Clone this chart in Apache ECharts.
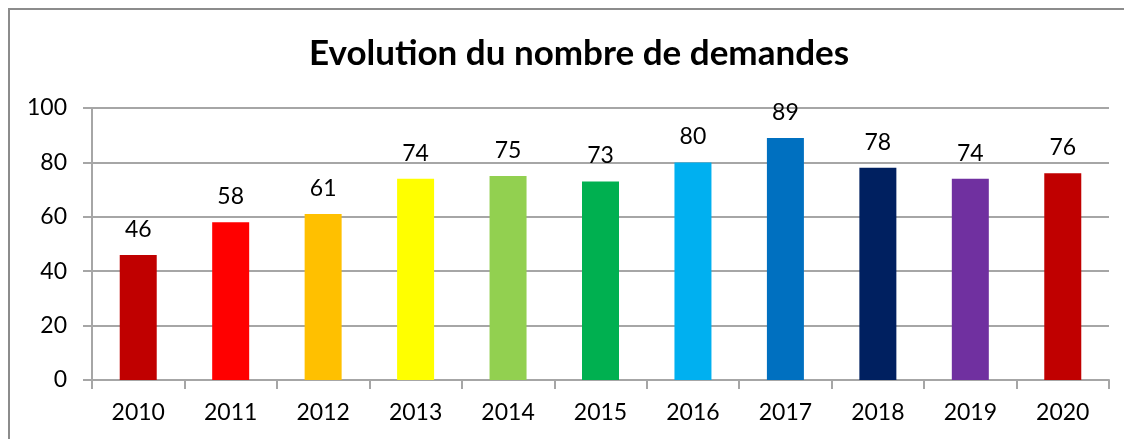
<!DOCTYPE html>
<html>
<head>
<meta charset="utf-8">
<script src="https://cdn.jsdelivr.net/npm/echarts@6/dist/echarts.min.js"></script>
<style>
  html, body { margin: 0; padding: 0; background: #fff; }
  #chart { width: 1124px; height: 439px; }
</style>
</head>
<body>
<div id="chart"></div>
<script>
// Yearly demand counts
const years = ['2010', '2011', '2012', '2013', '2014', '2015', '2016', '2017', '2018', '2019', '2020'];
const demandes = [46, 58, 61, 74, 75, 73, 80, 89, 78, 74, 76];
const barColors = ['#C00000', '#FF0000', '#FFC000', '#FFFF00', '#92D050', '#00B050',
                   '#00B0F0', '#0070C0', '#002060', '#7030A0', '#C00000'];
const yTicks = { min: 0, max: 100, interval: 20 };

const font = 'Lato, "Open Sans", "DejaVu Sans", sans-serif';
const gridColor = '#a6a6a6';

const chart = echarts.init(document.getElementById('chart'));
chart.setOption({
  animation: false,
  title: {
    text: 'Evolution du nombre de demandes',
    left: 304,
    top: 31,
    textStyle: { fontFamily: font, fontSize: 35, fontWeight: 'bold', color: '#000' }
  },
  graphic: [{
    type: 'rect',
    shape: { x: 9, y: 9, width: 1300, height: 600 },
    style: { fill: 'none', stroke: '#8c8c8c', lineWidth: 2 },
    silent: true
  }],
  grid: { left: 92, right: 15, top: 108, bottom: 59 },
  xAxis: {
    type: 'category',
    data: years,
    axisLine: { lineStyle: { color: gridColor, width: 2 } },
    axisTick: { show: true, length: 9, lineStyle: { color: gridColor, width: 2 } },
    axisLabel: { color: '#000', fontFamily: font, fontSize: 23, margin: 21 }
  },
  yAxis: {
    type: 'value',
    min: yTicks.min,
    max: yTicks.max,
    interval: yTicks.interval,
    axisLine: { show: true, lineStyle: { color: gridColor, width: 2 } },
    axisTick: { show: true, length: 9, lineStyle: { color: gridColor, width: 2 } },
    splitLine: { lineStyle: { color: gridColor, width: 2 } },
    axisLabel: { color: '#000', fontFamily: font, fontSize: 23, margin: 25 }
  },
  series: [{
    type: 'bar',
    barWidth: 37,
    data: demandes.map((v, i) => ({ value: v, itemStyle: { color: barColors[i] } })),
    label: {
      show: true,
      position: 'top',
      distance: 14,
      color: '#000',
      fontFamily: font,
      fontSize: 23
    }
  }]
});
</script>
</body>
</html>
